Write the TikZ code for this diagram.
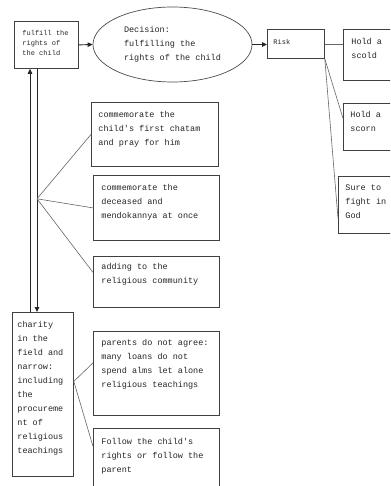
\documentclass[tikz,border=0pt]{standalone}
\usepackage{fontspec}
\setmonofont{Liberation Mono}
\usetikzlibrary{shapes.geometric,arrows.meta,calc}
\newcommand\bxtxt[5]{\parbox[c][#2bp][t]{#1bp}{\raggedright\leftskip=#3bp\relax\vspace*{#4bp}\strut#5\par}}
\begin{document}
\begin{tikzpicture}[x=1bp,y=-1bp,
  boxnode/.style={draw=black!75, line width=0.8bp, inner sep=0, anchor=north west, text=black!85,
    font=\ttfamily\fontsize{8.5bp}{14bp}\selectfont},
  smallbox/.style={boxnode, font=\ttfamily\fontsize{7bp}{10bp}\selectfont},
  arr/.style={-{Triangle[length=5bp,width=4.5bp]}, line width=0.9bp, draw=black!85},
  conn/.style={draw=black!60, line width=0.6bp}]
\useasboundingbox (0,0) rectangle (390,486);
\fill[white] (0,0) rectangle (390,486);
\clip (0,0) rectangle (390,486);

\node[smallbox] (fulfill) at (14,21) {\bxtxt{64}{47}{8}{7}{fulfill the\\rights of\\the child}};
\node[ellipse, draw=black!70, line width=0.7bp, minimum width=159bp, minimum height=75bp, inner sep=0,
  align=left, text=black!85, font=\ttfamily\fontsize{8.5bp}{14bp}\selectfont] (dec) at (172.5,44.5)
  {Decision:\\fulfilling the\\rights of the child};
\node[smallbox] (risk) at (267,29) {\bxtxt{57}{29}{6}{8}{Risk}};
\node[boxnode] (scold) at (343,29) {\bxtxt{60}{51}{8}{5.5}{Hold a\\scold}};
\node[boxnode] (scorn) at (343,103) {\bxtxt{60}{47}{7}{4.5}{Hold a\\scorn}};
\node[boxnode] (sure) at (338,176) {\bxtxt{65}{57}{7}{4.2}{Sure to\\fight in\\God}};
\node[boxnode] (b1) at (91,102) {\bxtxt{127}{64}{7}{5.2}{commemorate the\\child's first chatam\\and pray for him}};
\node[boxnode] (b2) at (93,175) {\bxtxt{126}{65}{8}{5.2}{commemorate the\\deceased and\\mendokannya at once}};
\node[boxnode] (b3) at (93,256) {\bxtxt{126}{51}{8}{3.5}{adding to the\\religious community}};
\node[boxnode] (charity) at (12,312) {\bxtxt{61}{164}{5}{5.2}{charity\\in the\\field and\\narrow:\\including\\the\\procureme\\nt of\\religious\\teachings}};
\node[boxnode] (b4) at (93,331) {\bxtxt{126}{84}{8}{4.2}{parents do not agree:\\many loans do not\\spend alms let alone\\religious teachings}};
\node[boxnode] (b5) at (93,428) {\bxtxt{126}{70}{8}{6.2}{Follow the child's\\rights or follow the\\parent}};

\draw[arr] (fulfill.east) -- (dec.west);
\draw[arr] (dec.east) -- (dec.east -| risk.west);

\draw[arr] ($(charity.north west)+(18,0)$) coordinate (up0) -- (up0 |- fulfill.south);
\draw[arr] ($(fulfill.south west)+(23,0)$) coordinate (dn0) -- (dn0 |- charity.north);
\coordinate (hub) at ($(dn0)+(0,130)$);
\draw[conn] (hub) -- (b1.west);
\draw[conn] (hub) -- (b2.west);
\draw[conn] (hub) -- ($(b3.west)+(0,-9.5)$);

\coordinate (cr) at ($(charity.east)+(0,-13)$);
\draw[conn] (cr) -- ($(b4.west)+(0,-10.5)$);
\draw[conn] (cr) -- ($(b5.west)+(0,-17)$);

\draw[conn] (risk.east) -- (risk.east -| scold.west);
\draw[conn] (risk.south east) -- ($(scorn.west)+(0,-8.5)$);
\draw[conn] (risk.south east) -- ($(sure.west)+(0,13.5)$);
\end{tikzpicture}
\end{document}
